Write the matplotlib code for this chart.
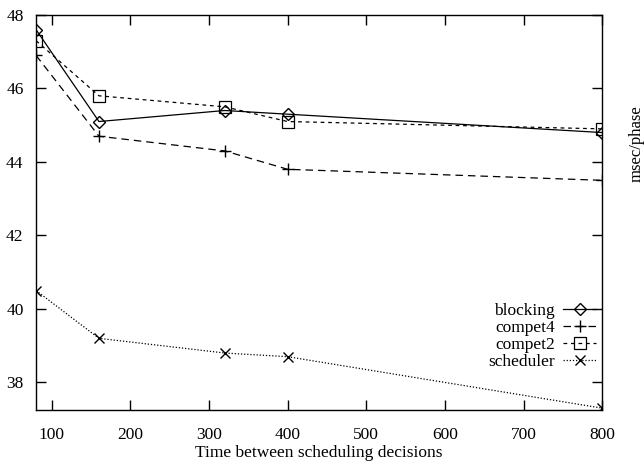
import matplotlib
matplotlib.use('Agg')
import matplotlib.pyplot as plt

# Values
times = [80, 160, 320, 400, 800]
blocking = [47.6, 45.1, 45.4, 45.3, 44.8]
compet4 = [46.9, 44.7, 44.3, 43.8, 43.5]
compet2 = [47.3, 45.8, 45.5, 45.1, 44.9]
scheduler = [40.5, 39.2, 38.8, 38.7, 37.3]

plt.rcParams['font.family'] = 'Liberation Serif'
plt.rcParams['font.size'] = 12.5

fig = plt.figure(figsize=(6.44, 4.62), dpi=100)
ax = fig.add_axes([0.056, 0.1126, 0.879, 0.855])

ms = 8
ax.plot(times, blocking, color='black', lw=0.9, linestyle='-',
        marker='D', markersize=6, markerfacecolor='none', label='blocking')
ax.plot(times, compet4, color='black', lw=0.9, linestyle=(0, (6, 4)),
        marker='+', markersize=ms + 1, markeredgewidth=1, label='compet4')
ax.plot(times, compet2, color='black', lw=0.9, linestyle=(0, (3, 3)),
        marker='s', markersize=ms, markerfacecolor='none', markeredgewidth=0.9,
        label='compet2')
ax.plot(times, scheduler, color='black', lw=0.9, linestyle=(0, (1, 1.5)),
        marker='x', markersize=ms - 1, markeredgewidth=1, label='scheduler')

ax.set_xlim(80, 800)
ax.set_ylim(37.25, 48)
ax.set_xticks([100, 200, 300, 400, 500, 600, 700, 800])
ax.set_yticks([38, 40, 42, 44, 46, 48])
ax.tick_params(direction='in', top=True, right=True, length=7, width=1)
ax.tick_params(axis='x', pad=12)
ax.tick_params(axis='y', pad=9)
for s in ax.spines.values():
    s.set_linewidth(1)

ax.set_xlabel('Time between scheduling decisions', labelpad=1.5)
fig.text(0.989, 0.69, 'msec/phase', rotation=90, ha='center', va='center',
         fontsize=12)

ax.legend(loc='lower right', bbox_to_anchor=(0.99, 0.1), frameon=False,
          markerfirst=False, handlelength=1.9, handletextpad=0.5,
          labelspacing=0.05, borderaxespad=0, borderpad=0)

fig.savefig('out.png', dpi=100)
